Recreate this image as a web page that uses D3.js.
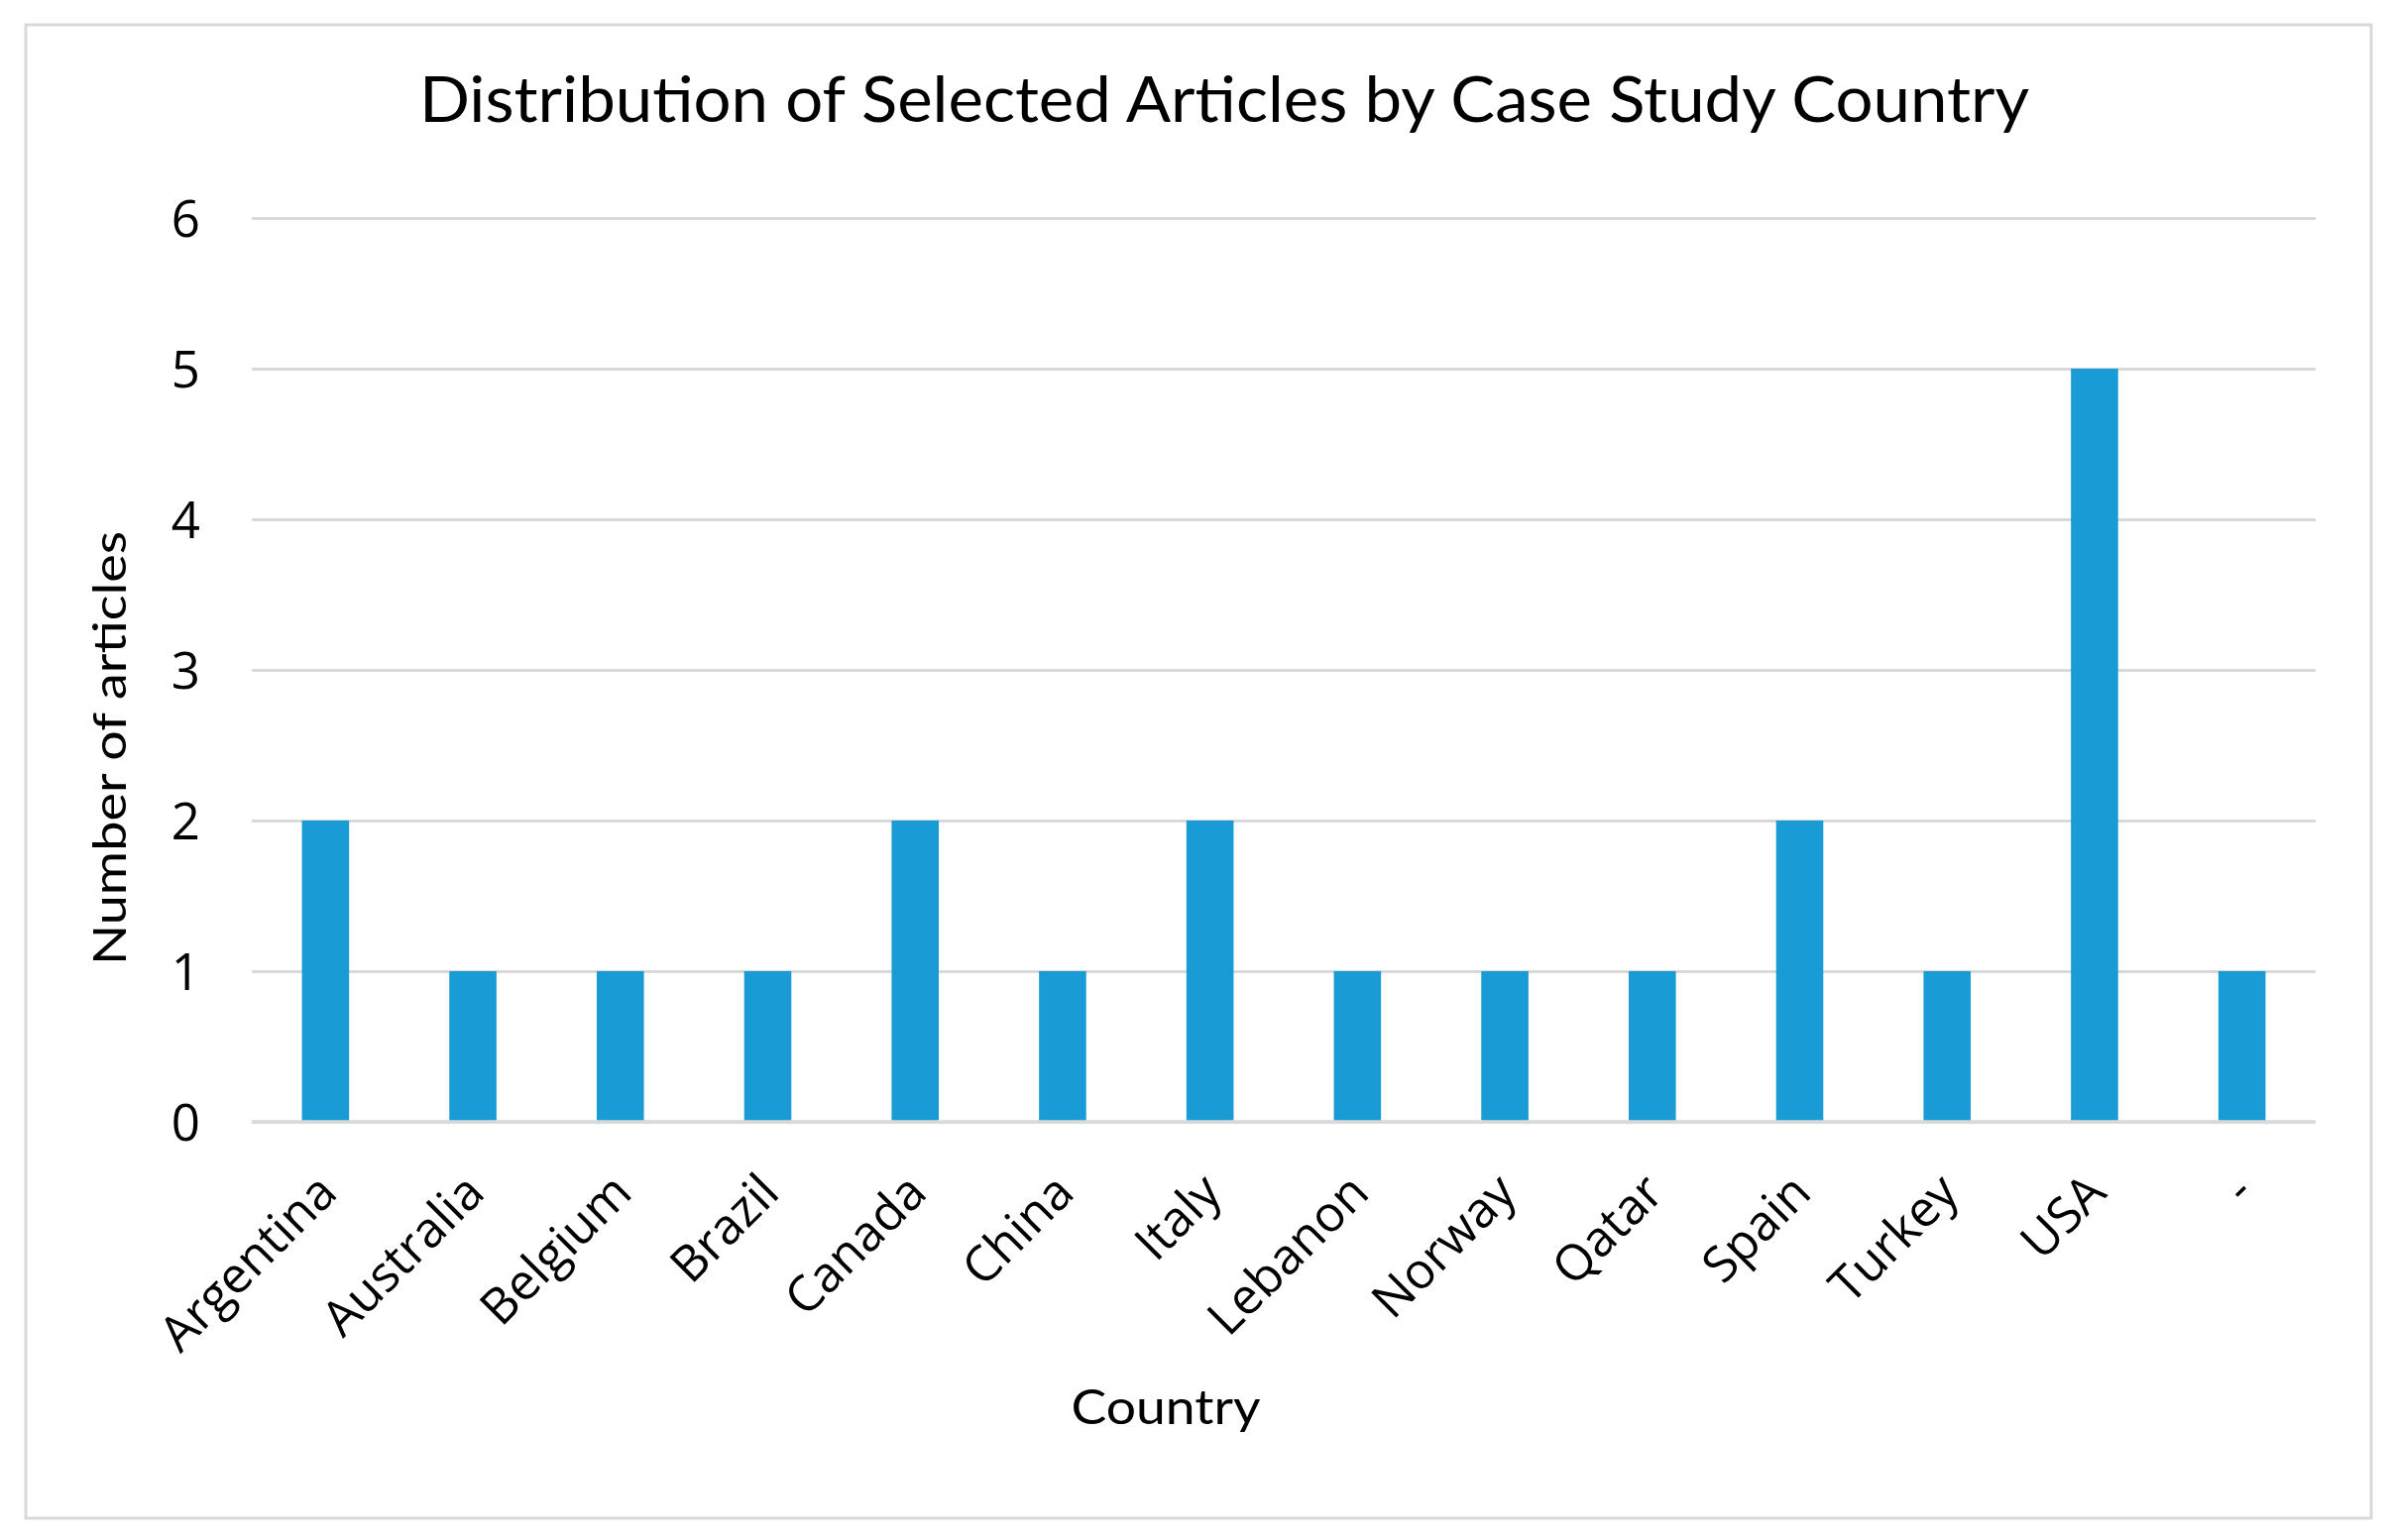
<!DOCTYPE html>
<html>
<head>
<meta charset="utf-8">
<script src="https://cdn.jsdelivr.net/npm/d3@7"></script>
<style>
  html, body { margin: 0; padding: 0; background: #ffffff; }
  svg { display: block; }
</style>
</head>
<body>
<svg id="chart" width="2413" height="1554"></svg>
<script>
// ---- data ----
const categories = ["Argentina", "Australia", "Belgium", "Brazil", "Canada", "China", "Italy",
                    "Lebanon", "Norway", "Qatar", "Spain", "Turkey", "USA", "-"];
const articleCounts = [2, 1, 1, 1, 2, 1, 2, 1, 1, 1, 2, 1, 5, 1];
const yTicks = [0, 1, 2, 3, 4, 5, 6];
const chartTitle = "Distribution of Selected Articles by Case Study Country";
const xTitle = "Country";
const yTitle = "Number of articles";

// ---- layout ----
const W = 2413, H = 1554;
const plot = { left: 254, right: 2336, top: 220, bottom: 1132 };
const svg = d3.select("#chart");

const labelFont = "'Open Sans', 'Noto Sans', sans-serif";
const titleFont = "Lato, 'Open Sans', sans-serif";

// outer border
svg.append("rect")
  .attr("x", 26).attr("y", 25)
  .attr("width", 2366).attr("height", 1507)
  .attr("fill", "#ffffff")
  .attr("stroke", "#d9d9d9").attr("stroke-width", 3);

const x = d3.scaleBand()
  .domain(categories)
  .range([plot.left, plot.right])
  .paddingInner(0.68)
  .paddingOuter(0.34);

const y = d3.scaleLinear()
  .domain([0, 6])
  .range([plot.bottom, plot.top]);

// gridlines
const yAxis = d3.axisLeft(y)
  .tickValues(yTicks)
  .tickSize(-(plot.right - plot.left))
  .tickPadding(52)
  .tickFormat(d3.format("d"));

const gY = svg.append("g")
  .attr("transform", `translate(${plot.left},0)`)
  .call(yAxis);
gY.select(".domain").remove();
gY.selectAll(".tick line")
  .attr("stroke", "#d9d9d9")
  .attr("stroke-width", 3);
gY.selectAll(".tick text")
  .attr("font-family", labelFont)
  .attr("font-size", 51)
  .attr("fill", "#000000")
  .attr("dy", "0.36em");

// bars
svg.append("g")
  .selectAll("rect")
  .data(categories.map((c, i) => ({ c, v: articleCounts[i] })))
  .join("rect")
  .attr("x", d => x(d.c))
  .attr("width", x.bandwidth())
  .attr("y", d => y(d.v))
  .attr("height", d => y(0) - y(d.v))
  .attr("fill", "#199bd6");

// x axis line
svg.append("line")
  .attr("x1", plot.left).attr("x2", plot.right)
  .attr("y1", y(0)).attr("y2", y(0))
  .attr("stroke", "#d9d9d9").attr("stroke-width", 3.5);

// x axis labels (rotated)
const xAxis = d3.axisBottom(x).tickSize(0).tickPadding(0);
const gX = svg.append("g")
  .attr("transform", `translate(0,${plot.bottom})`)
  .call(xAxis);
gX.select(".domain").remove();
gX.selectAll(".tick text")
  .attr("font-family", labelFont)
  .attr("font-size", 50)
  .attr("fill", "#000000")
  .attr("text-anchor", "end")
  .attr("y", 0)
  .attr("dy", 0)
  .attr("transform", "translate(14,74) rotate(-45)");

// chart title
svg.append("text")
  .attr("x", 1235).attr("y", 123)
  .attr("text-anchor", "middle")
  .attr("font-family", titleFont)
  .attr("font-size", 63)
  .attr("textLength", 1624)
  .attr("lengthAdjust", "spacingAndGlyphs")
  .attr("fill", "#000000")
  .text(chartTitle);

// x title
svg.append("text")
  .attr("x", 1176).attr("y", 1437)
  .attr("text-anchor", "middle")
  .attr("font-family", titleFont)
  .attr("font-size", 48)
  .attr("textLength", 191)
  .attr("lengthAdjust", "spacingAndGlyphs")
  .attr("fill", "#000000")
  .text(xTitle);

// y title
svg.append("text")
  .attr("transform", "translate(127,755) rotate(-90)")
  .attr("text-anchor", "middle")
  .attr("font-family", titleFont)
  .attr("font-size", 46)
  .attr("textLength", 438)
  .attr("lengthAdjust", "spacingAndGlyphs")
  .attr("fill", "#000000")
  .text(yTitle);
</script>
</body>
</html>
